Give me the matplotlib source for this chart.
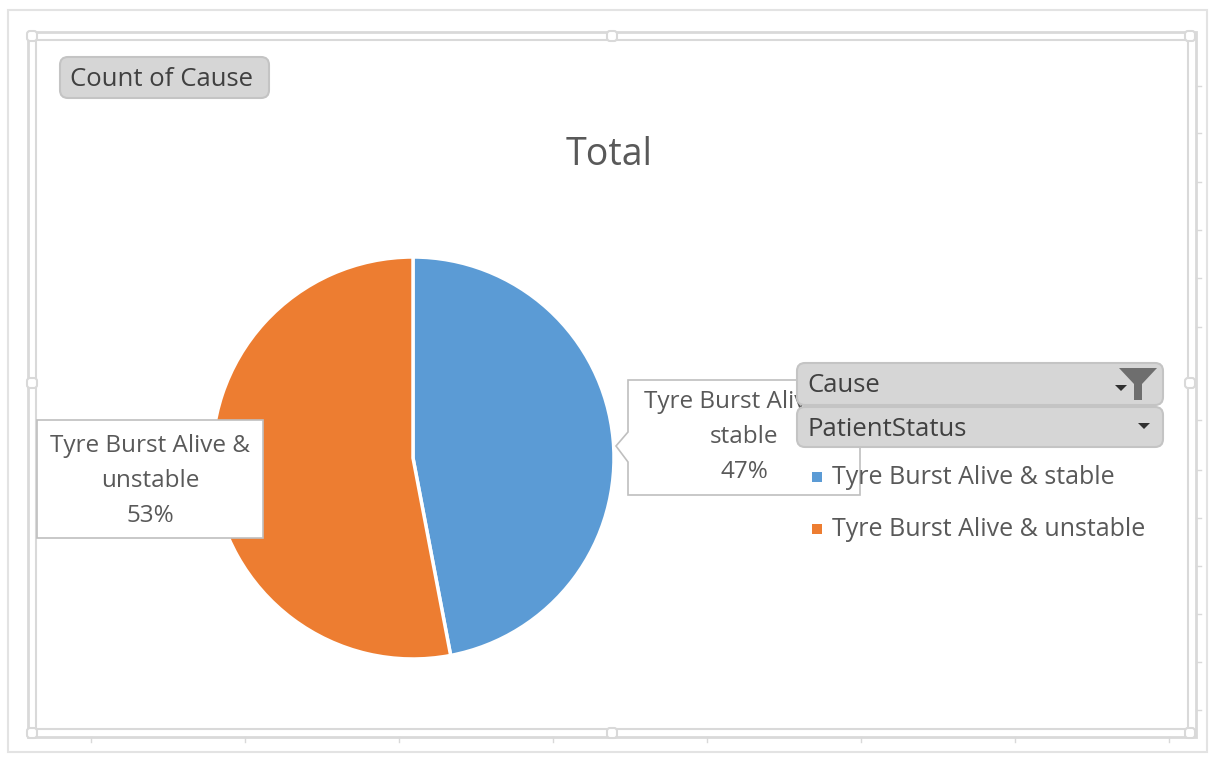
import matplotlib
matplotlib.use('Agg')
import matplotlib.pyplot as plt
from matplotlib.patches import FancyBboxPatch, Rectangle, Polygon

# ── data ──────────────────────────────────────────────────────────────────────
categories = ['Tyre Burst Alive & stable', 'Tyre Burst Alive & unstable']
shares = [47, 53]
label_text = ['Tyre Burst Alive &\nstable\n47%', 'Tyre Burst Alive &\nunstable\n53%']
title = 'Total'

BLUE = '#5B9BD5'
ORANGE = '#ED7D31'
TXT = '#595959'
FRAME = '#d9d9d9'
FONT = 'Open Sans'

W, H = 1215, 759
fig = plt.figure(figsize=(W / 100, H / 100), dpi=100)
ax = fig.add_axes([0, 0, 1, 1])


def y(v):   # image row → axes y
    return H - v


# ── frames ────────────────────────────────────────────────────────────────────
ax.add_patch(Rectangle((8, y(752)), 1199, 742, fill=False, ec='#e3e3e3', lw=1.5))
ax.add_patch(Rectangle((28, y(737)), 1168, 705, fill=False, ec=FRAME, lw=2))
ax.add_patch(Rectangle((36, y(729)), 1152, 689, fill=False, ec=FRAME, lw=1.5))
for tx in [91, 245, 399, 553, 707, 861, 1015, 1169]:
    ax.plot([tx, tx], [y(737), y(742)], color=FRAME, lw=1)
for ty in [86, 133, 182, 230, 278, 327, 420, 470, 518, 566, 614, 662, 710]:
    ax.plot([1196, 1201], [y(ty), y(ty)], color=FRAME, lw=1)
for hx, hy in [(32, 36), (612, 36), (1190, 36), (32, 383), (1190, 383),
               (32, 733), (612, 733), (1190, 733)]:
    ax.add_patch(FancyBboxPatch((hx - 5, y(hy) - 5), 10, 10,
                                boxstyle='round,pad=0,rounding_size=3',
                                fc='white', ec=FRAME, lw=1.5, zorder=3))

# ── pie ───────────────────────────────────────────────────────────────────────
ax.pie(shares, colors=[BLUE, ORANGE], startangle=90, counterclock=False,
       center=(413, y(458)), radius=201, frame=True,
       wedgeprops=dict(edgecolor='white', linewidth=2.5))
ax.set_xlim(0, W)
ax.set_ylim(0, H)
ax.set_aspect('equal')
ax.set_axis_off()

ax.text(609, y(155), title, fontsize=27, color=TXT, ha='center', va='center',
        family=FONT)

# ── data labels ───────────────────────────────────────────────────────────────
ax.add_patch(Polygon([(628, y(380)), (860, y(380)), (860, y(495)), (628, y(495)),
                      (628, y(462)), (616, y(446)), (628, y(432))],
                     closed=True, fc='white', ec='#bfbfbf', lw=1.2, zorder=4))
ax.text(744, y(437), label_text[0], fontsize=17.5, color=TXT, ha='center',
        va='center', linespacing=1.6, family=FONT, zorder=5)
ax.add_patch(Rectangle((37, y(538)), 226, 118, fc='white', ec='#bfbfbf',
                       lw=1.2, zorder=4))
ax.text(150, y(481), label_text[1], fontsize=17.5, color=TXT, ha='center',
        va='center', linespacing=1.6, family=FONT, zorder=5)


# ── field buttons ─────────────────────────────────────────────────────────────
def button(x0, y0, x1, y1, text):
    ax.add_patch(FancyBboxPatch((x0, y(y1)), x1 - x0, y1 - y0,
                                boxstyle='round,pad=0,rounding_size=8',
                                fc='#d6d6d6', ec='#c4c4c4', lw=1.5, zorder=6))
    ax.text(x0 + 10, y((y0 + y1) / 2 + 2), text, fontsize=18.5, color='#404040',
            ha='left', va='center', family=FONT, zorder=7)


button(60, 57, 269, 98, 'Count of Cause')
button(797, 363, 1163, 405, 'Cause')
button(797, 407, 1163, 447, 'PatientStatus')

# dropdown arrows and filter icon
for ax_x, ax_y in [(1121, 388), (1144, 426)]:
    ax.add_patch(Polygon([(ax_x - 6, y(ax_y - 3)), (ax_x + 6, y(ax_y - 3)),
                          (ax_x, y(ax_y + 3))], closed=True, fc='#303030',
                         ec='none', zorder=8))
ax.add_patch(Polygon([(1119, y(368)), (1157, y(368)), (1142, y(384)),
                      (1142, y(400)), (1134, y(400)), (1134, y(384))],
                     closed=True, fc='#6e6e6e', ec='none', zorder=8))

# ── legend ────────────────────────────────────────────────────────────────────
for i, (name, col) in enumerate(zip(categories, [BLUE, ORANGE])):
    ly = 477 + i * 52
    ax.add_patch(Rectangle((812, y(ly) - 5), 10, 10, fc=col, ec='none', zorder=9))
    ax.text(832, y(ly), name, fontsize=18, color=TXT, ha='left', va='center',
            family=FONT, zorder=9)

fig.savefig('out.png', dpi=100)
